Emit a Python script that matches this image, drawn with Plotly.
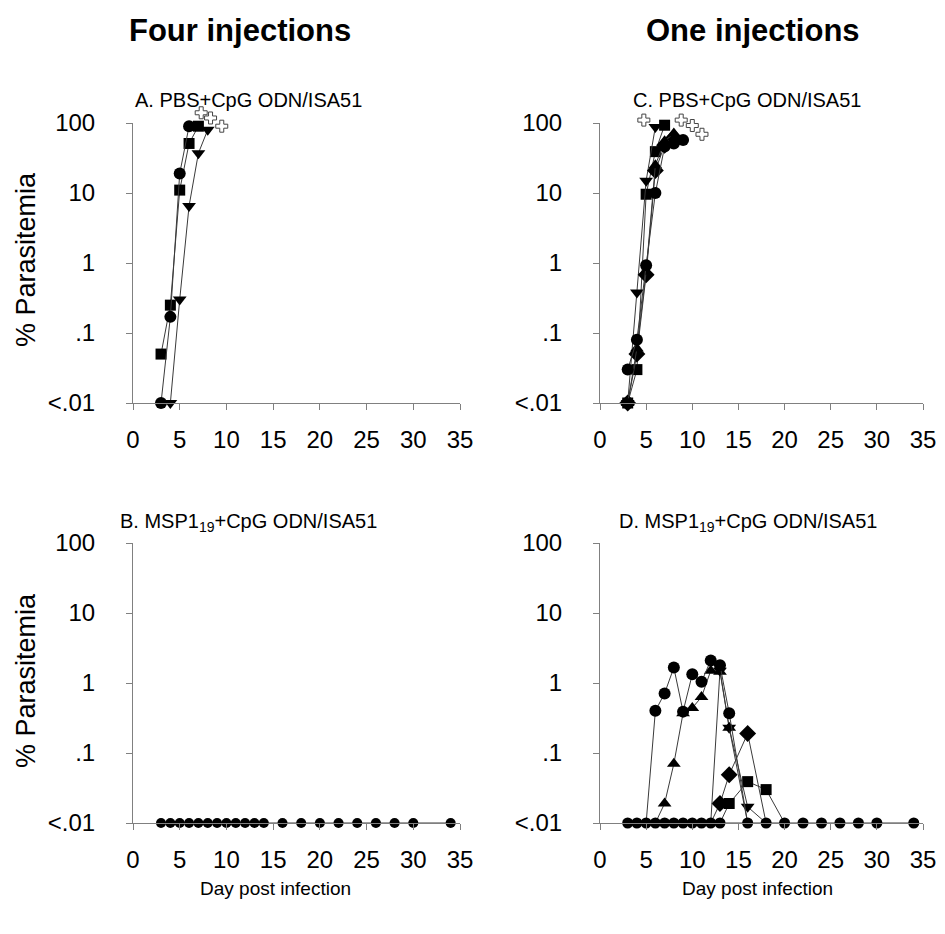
import plotly.graph_objects as go

# ---------------- data ----------------
x_ticks = [0, 5, 10, 15, 20, 25, 30, 35]
y_tickvals = [100, 10, 1, 0.1, 0.01]
y_ticktext = ["100", "10", "1", ".1", "&lt;.01"]

# Panel A: PBS+CpG ODN/ISA51, four injections
A_circle_days = [3, 4, 5, 6]
A_circle_vals = [0.01, 0.17, 19, 90]
A_square_days = [3, 4, 5, 6, 7]
A_square_vals = [0.05, 0.25, 11, 51, 90]
A_tridown_days = [4, 5, 6, 7, 8]
A_tridown_vals = [0.01, 0.3, 6.5, 37, 80]
A_death_days = [7.3, 8.3, 9.5]
A_death_vals = [140, 118, 90]

# Panel B: MSP1-19+CpG ODN/ISA51, four injections
B_days = [3, 4, 5, 6, 7, 8, 9, 10, 11, 12, 13, 14, 16, 18, 20, 22, 24, 26, 28, 30, 34]
B_vals = [0.01] * len(B_days)

# Panel C: PBS+CpG ODN/ISA51, one injection
C_circle_days = [3, 4, 5, 6, 7, 8, 9]
C_circle_vals = [0.03, 0.08, 0.93, 10, 46, 51, 57]
C_square_days = [3, 4, 5, 6, 7]
C_square_vals = [0.01, 0.03, 9.6, 39, 93]
C_tridown_days = [3, 4, 5, 6]
C_tridown_vals = [0.01, 0.38, 15, 88]
C_diamond_days = [3, 4, 5, 6, 7, 8]
C_diamond_vals = [0.01, 0.05, 0.68, 21, 48, 62]
C_triup_days = [3, 4, 5, 6, 7, 8]
C_triup_vals = [0.01, 0.06, 0.75, 25, 55, 71]
C_death_days = [4.75, 8.8, 10.0, 11.05]
C_death_vals = [110, 110, 92, 69]

# Panel D: MSP1-19+CpG ODN/ISA51, one injection
D_base_days = [3, 4, 5, 6, 7, 8, 9, 10, 11, 12, 13, 16, 18, 20, 22, 24, 26, 28, 30, 34]
D_base_vals = [0.01] * len(D_base_days)
D_circle_days = [5, 6, 7, 8, 9, 10, 11, 12, 13, 14, 16]
D_circle_vals = [0.01, 0.40, 0.71, 1.66, 0.39, 1.33, 1.04, 2.1, 1.8, 0.37, 0.01]
D_triup_days = [6, 7, 8, 9, 10, 11, 12, 13, 14, 16]
D_triup_vals = [0.01, 0.019, 0.07, 0.37, 0.44, 0.63, 1.5, 1.45, 0.23, 0.01]
D_tridown_days = [12, 13, 14, 16, 18]
D_tridown_vals = [0.01, 1.5, 0.23, 0.017, 0.01]
D_diamond_days = [12, 13, 14, 16, 18]
D_diamond_vals = [0.01, 0.019, 0.049, 0.19, 0.01]
D_square_days = [13, 14, 16, 18, 20]
D_square_vals = [0.01, 0.019, 0.039, 0.03, 0.01]

# ---------------- figure ----------------
PAGE = 8                      # default page margin around the figure
W, H = 945 - PAGE, 934 - PAGE
FONT = "Liberation Sans, Arial, sans-serif"
LINE = "#3a3a3a"
AX = "#808080"

fig = go.Figure()

SIZES = {"circle": 12, "square": 11, "triangle-down": 12, "triangle-up": 12, "diamond": 13}


def series(days, vals, symbol, ax, hide_base=False, size=None):
    s = size if size is not None else SIZES[symbol]
    sizes = [0 if (hide_base and v <= 0.01) else s for v in vals]
    fig.add_trace(go.Scatter(
        x=days, y=vals, mode="lines+markers", opacity=1,
        line=dict(color=LINE, width=1),
        marker=dict(symbol=symbol, size=sizes, color="#000000", opacity=1,
                    line=dict(width=0, color="#000000")),
        xaxis="x" + ax, yaxis="y" + ax, cliponaxis=False, showlegend=False,
    ))


def deaths(days, vals, xa, ya):
    fig.add_trace(go.Scatter(
        x=days, y=vals, mode="markers",
        marker=dict(symbol="cross", size=10, color="white", line=dict(color="#444", width=1)),
        xaxis=xa, yaxis=ya, cliponaxis=False, showlegend=False,
    ))


# A
series(A_square_days, A_square_vals, "square", "")
series(A_tridown_days, A_tridown_vals, "triangle-down", "")
series(A_circle_days, A_circle_vals, "circle", "")
deaths(A_death_days, A_death_vals, "x", "y5")
# B
series(B_days, B_vals, "circle", "2", size=10)
# C
series(C_square_days, C_square_vals, "square", "3")
series(C_tridown_days, C_tridown_vals, "triangle-down", "3")
series(C_diamond_days, C_diamond_vals, "diamond", "3")
series(C_triup_days, C_triup_vals, "triangle-up", "3")
series(C_circle_days, C_circle_vals, "circle", "3")
deaths(C_death_days, C_death_vals, "x3", "y6")
# D
series(D_square_days, D_square_vals, "square", "4", hide_base=True)
series(D_diamond_days, D_diamond_vals, "diamond", "4", hide_base=True)
series(D_tridown_days, D_tridown_vals, "triangle-down", "4", hide_base=True)
series(D_triup_days, D_triup_vals, "triangle-up", "4", hide_base=True)
series(D_circle_days, D_circle_vals, "circle", "4", hide_base=True)
series(D_base_days, D_base_vals, "circle", "4", size=11)

# plot-area geometry (screen pixels)
left_x = (133, 460)
right_x = (600, 923)
top_y = (123, 403)
bot_y = (543, 823)
EXTRA = 40  # pixels of headroom for the death marks


def xd(p):
    return [(p[0] - PAGE) / W, (p[1] - PAGE) / W]


def yd(p):
    return [1 - (p[1] - PAGE) / H, 1 - (p[0] - PAGE) / H]


xbase = dict(range=[0, 35], tickvals=x_ticks, showline=True, linecolor=AX, linewidth=1,
             ticks="outside", ticklen=6, tickcolor=AX, showgrid=False, zeroline=False,
             tickfont=dict(family=FONT, size=24, color="black"), ticklabelstandoff=9)
ybase = dict(type="log", range=[-2, 2], tickvals=y_tickvals, ticktext=y_ticktext,
             showline=True, linecolor=AX, linewidth=1, ticks="outside", ticklen=6,
             tickcolor=AX, showgrid=False, zeroline=False,
             tickfont=dict(family=FONT, size=24, color="black"), ticklabelstandoff=26)
decade = (top_y[1] - top_y[0]) / 4.0
yhead = dict(type="log", range=[-2, 2 + EXTRA / decade], visible=False,
             showgrid=False, zeroline=False)

fig.update_layout(
    width=W, height=H, margin=dict(l=0, r=0, t=0, b=0, pad=0, autoexpand=False),
    paper_bgcolor="white", plot_bgcolor="rgba(0,0,0,0)",
    xaxis=dict(xbase, domain=xd(left_x), anchor="y"),
    yaxis=dict(ybase, domain=yd(top_y), anchor="x"),
    xaxis2=dict(xbase, domain=xd(left_x), anchor="y2"),
    yaxis2=dict(ybase, domain=yd(bot_y), anchor="x2"),
    xaxis3=dict(xbase, domain=xd(right_x), anchor="y3"),
    yaxis3=dict(ybase, domain=yd(top_y), anchor="x3"),
    xaxis4=dict(xbase, domain=xd(right_x), anchor="y4"),
    yaxis4=dict(ybase, domain=yd(bot_y), anchor="x4"),
    yaxis5=dict(yhead, domain=yd((top_y[0] - EXTRA, top_y[1])), anchor="x"),
    yaxis6=dict(yhead, domain=yd((top_y[0] - EXTRA, top_y[1])), anchor="x3"),
)


def text(s, px, py, size, bold=False, angle=0):
    fig.add_annotation(
        text=("<b>%s</b>" % s) if bold else s, x=(px - PAGE) / W, y=1 - (py - PAGE) / H,
        xref="paper", yref="paper", showarrow=False, textangle=angle,
        xanchor="center", yanchor="middle",
        font=dict(family=FONT, size=size, color="black"),
    )


text("Four injections", 240, 31, 31, bold=True)
text("One injections", 753, 31, 31, bold=True)
text("A. PBS+CpG ODN/ISA51", 248, 100, 20)
text("C. PBS+CpG ODN/ISA51", 747, 100, 20)
text("B. MSP1<sub>19</sub>+CpG ODN/ISA51", 248, 522, 20)
text("D. MSP1<sub>19</sub>+CpG ODN/ISA51", 748, 522, 20)
text("% Parasitemia", 26, 260, 27, angle=-90)
text("% Parasitemia", 26, 681, 27, angle=-90)
text("Day post infection", 275, 888, 19)
text("Day post infection", 757, 888, 19)

fig.write_html("out.html")
